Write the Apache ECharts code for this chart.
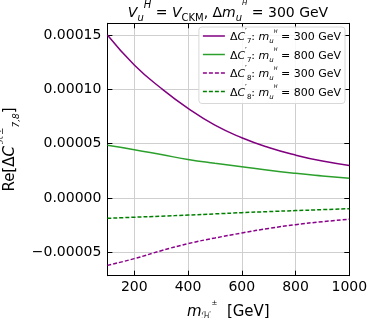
<!DOCTYPE html>
<html><head><meta charset="utf-8">
<script src="https://cdn.jsdelivr.net/npm/echarts@6/dist/echarts.min.js"></script>
<style>html,body{margin:0;padding:0;background:#fff}#c{width:374px;height:318px}</style>
</head><body><div id="c"></div>
<script>
const mass = [100,200,300,400,500,600,700,800,900,1000];
const c7_300 = [1.50e-4,1.225e-4,1.01e-4,0.825e-4,0.67e-4,0.555e-4,0.465e-4,0.395e-4,0.34e-4,0.30e-4];
const c7_800 = [4.85e-5,4.45e-5,4.0e-5,3.55e-5,3.2e-5,2.88e-5,2.55e-5,2.27e-5,2.03e-5,1.81e-5];
const c8_300 = [-6.2e-5,-5.58e-5,-4.85e-5,-4.2e-5,-3.68e-5,-3.22e-5,-2.8e-5,-2.45e-5,-2.18e-5,-1.96e-5];
const c8_800 = [-1.87e-5,-1.77e-5,-1.67e-5,-1.57e-5,-1.46e-5,-1.35e-5,-1.25e-5,-1.16e-5,-1.07e-5,-0.98e-5];
const xTicks = [200,400,600,800,1000];
const yTicks = [-0.00005,0,0.00005,0.0001,0.00015];
const seriesNames = ['c7_300','c7_800','c8_300','c8_800'];

const FONT = 'DejaVu Sans';
const LH = 14;
const NB = '\u00a0';
const baseRich = {
  n:{fontFamily:FONT,fontSize:11,color:'#000',lineHeight:LH,verticalAlign:'bottom'},
  i:{fontFamily:FONT,fontSize:11,fontStyle:'italic',color:'#000',lineHeight:LH,verticalAlign:'bottom'},
  sup:{fontFamily:FONT,fontSize:8,color:'#000',lineHeight:LH,verticalAlign:'top'},
  sub:{fontFamily:FONT,fontSize:7,color:'#000',lineHeight:LH,verticalAlign:'bottom',padding:[0,0,-2,0]},
  isub:{fontFamily:FONT,fontSize:7,fontStyle:'italic',color:'#000',lineHeight:LH,verticalAlign:'bottom',padding:[0,0,-2,0]},
  tsup:{fontFamily:FONT,fontSize:5,fontStyle:'italic',color:'#000',lineHeight:10,verticalAlign:'top'}
};
function legendLabel(k){
  const idx = k.startsWith('c7') ? '7' : '8';
  const m = k.endsWith('300') ? '300' : '800';
  return '{n|Δ}{i|C}{sup|′}{sub|'+idx+'}{n|:'+NB+'}{i|m}{isub|u}{tsup|H}{n|'+NB+'='+NB+m+NB+'GeV}';
}
const colors = {c7_300:'#800080', c7_800:'#2ca02c', c8_300:'#8b008b', c8_800:'#008000'};
const dataMap = {c7_300, c7_800, c8_300, c8_800};
const solidIcon = 'path://M0,0H22V1.5H0Z';
const dashIcon = 'path://M0,0H4V1.5H0Z M6,0H10V1.5H6Z M12,0H16V1.5H12Z M18,0H22V1.5H18Z';

const chart = echarts.init(document.getElementById('c'), null, {renderer:'canvas'});
const tickStyle = {show:true, inside:true, length:5, lineStyle:{color:'#000', width:1}};
const gridLine = {show:true, lineStyle:{color:'#cfcfcf', width:1}};
const titleRich = {
  n:{fontFamily:FONT,fontSize:14,fontWeight:'normal',color:'#000',lineHeight:20,verticalAlign:'bottom'},
  i:{fontFamily:FONT,fontSize:14,fontWeight:'normal',fontStyle:'italic',color:'#000',lineHeight:20,verticalAlign:'bottom'},
  sup:{fontFamily:FONT,fontSize:10,fontWeight:'normal',fontStyle:'italic',color:'#000',lineHeight:20,verticalAlign:'top'},
  sub:{fontFamily:FONT,fontSize:10,fontWeight:'normal',color:'#000',lineHeight:20,verticalAlign:'bottom',padding:[0,0,-3,0]},
  isub:{fontFamily:FONT,fontSize:10,fontWeight:'normal',fontStyle:'italic',color:'#000',lineHeight:20,verticalAlign:'bottom',padding:[0,0,-3,0]},
  tsup:{fontFamily:FONT,fontSize:7,fontWeight:'normal',fontStyle:'italic',color:'#000',lineHeight:14,verticalAlign:'top'}
};
chart.setOption({
  animation:false,
  title:{
    text:'{i|V}{isub|u}{sup|H}{n|'+NB+'='+NB+'}{i|V}{sub|CKM}{n|,'+NB+'Δ}{i|m}{isub|u}{tsup|H}{n|'+NB+'='+NB+'300'+NB+'GeV}',
    left:228, top:0, textAlign:'center', padding:[0,0,0,0],
    textStyle:{fontWeight:'normal', rich:titleRich}
  },
  grid:{left:107.4, right:24.7, top:23.3, bottom:42.3, containLabel:false, outerBoundsMode:'none'},
  legend:{
    data:seriesNames.map(k => ({name:k, icon: k.startsWith('c8') ? dashIcon : solidIcon})),
    orient:'vertical', right:29, top:27,
    itemWidth:22, itemHeight:1.5, itemGap:2.5,
    backgroundColor:'rgba(255,255,255,0.85)', borderColor:'#d8d8d8', borderWidth:1, borderRadius:3,
    padding:[2,4,3,4],
    formatter: name => legendLabel(name),
    textStyle:{rich:baseRich}
  },
  xAxis:[{
    type:'value', min:100, max:1000,
    name:'{i|m}{isub|ℋ}{tsup|±}{n|'+NB+NB+'[GeV]}', nameLocation:'middle', nameGap:19,
    nameTextStyle:{rich:{
      n:{fontFamily:FONT,fontSize:15,color:'#000',lineHeight:20,verticalAlign:'bottom'},
      i:{fontFamily:FONT,fontSize:15,fontStyle:'italic',color:'#000',lineHeight:20,verticalAlign:'bottom'},
      isub:{fontFamily:FONT,fontSize:10,fontStyle:'italic',color:'#000',lineHeight:20,verticalAlign:'bottom',padding:[0,0,-2,0]},
      tsup:{fontFamily:FONT,fontSize:7,color:'#000',lineHeight:16,verticalAlign:'top'}
    }},
    axisLine:{show:true,onZero:false,lineStyle:{color:'#000',width:1}},
    axisTick:Object.assign({customValues:xTicks}, tickStyle),
    axisLabel:{customValues:xTicks, margin:5, fontFamily:FONT, fontSize:14, color:'#000', formatter: v => String(v)},
    splitLine:gridLine
  },{
    type:'value', min:100, max:1000, position:'top',
    axisLine:{show:true,onZero:false,lineStyle:{color:'#000',width:1}},
    axisTick:Object.assign({customValues:xTicks}, tickStyle),
    axisLabel:{show:false}, splitLine:{show:false}
  }],
  yAxis:[{
    type:'value', min:-0.0000715, max:0.0001608,
    name:'{n|Re[Δ}{i|C}{sup|′ℋ±}{sub|7,8}{n|]}', nameLocation:'middle', nameRotate:90, nameGap:76,
    nameTextStyle:{rich:{
      n:{fontFamily:FONT,fontSize:15,color:'#000',lineHeight:22,verticalAlign:'bottom'},
      i:{fontFamily:FONT,fontSize:15,fontStyle:'italic',color:'#000',lineHeight:22,verticalAlign:'bottom'},
      sup:{fontFamily:FONT,fontSize:9,fontStyle:'italic',color:'#000',lineHeight:22,verticalAlign:'top'},
      sub:{fontFamily:FONT,fontSize:9,fontStyle:'italic',color:'#000',lineHeight:22,verticalAlign:'bottom',padding:[0,0,-3,0]}
    }},
    axisLine:{show:true,onZero:false,lineStyle:{color:'#000',width:1}},
    axisTick:Object.assign({customValues:yTicks}, tickStyle),
    axisLabel:{customValues:yTicks, margin:6, fontFamily:FONT, fontSize:14, color:'#000',
      formatter: v => (v < 0 ? '\u2212' : '') + Math.abs(v).toFixed(5)},
    splitLine:gridLine
  },{
    type:'value', min:-0.0000715, max:0.0001608, position:'right',
    axisLine:{show:true,onZero:false,lineStyle:{color:'#000',width:1}},
    axisTick:Object.assign({customValues:yTicks}, tickStyle),
    axisLabel:{show:false}, splitLine:{show:false}
  }],
  series: seriesNames.map(k => ({
    name:k, type:'line', smooth:true, symbol:'none',
    xAxisIndex:0, yAxisIndex:0,
    data: mass.map((m,i)=>[m, dataMap[k][i]]),
    lineStyle:{color:colors[k], width:1.5, type: k.startsWith('c8') ? [4,2] : 'solid'},
    itemStyle:{color:colors[k]}
  }))
});
</script></body></html>
